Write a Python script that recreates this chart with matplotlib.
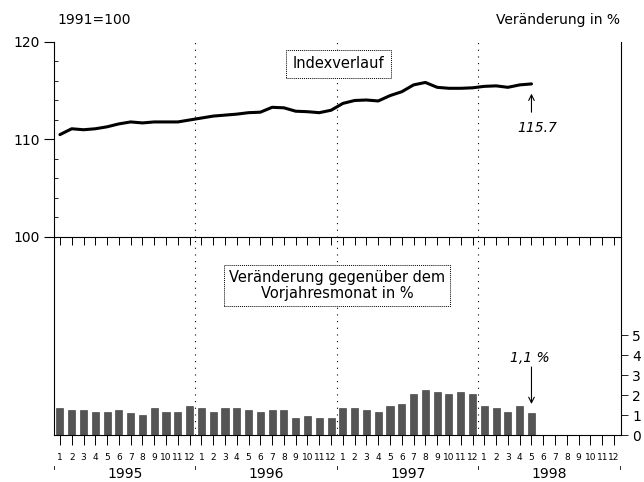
import numpy as np
import matplotlib
matplotlib.use('Agg')
import matplotlib.pyplot as plt
from matplotlib.ticker import MultipleLocator

plt.rcParams['font.family'] = ['DejaVu Sans']

years = ['1995', '1996', '1997', '1998']
month_labels = [str(m) for m in range(1, 13)] * 4

# index 1991=100, Jan 1995 .. May 1998
index_values = [110.5, 111.1, 111.0, 111.1, 111.3, 111.6, 111.8, 111.7, 111.8, 111.8, 111.8, 112.0,
                112.2, 112.4, 112.5, 112.6, 112.75, 112.8, 113.3, 113.25, 112.9, 112.85, 112.75, 113.0,
                113.7, 114.0, 114.05, 113.95, 114.5, 114.9, 115.6, 115.85, 115.35, 115.25, 115.25, 115.3,
                115.45, 115.5, 115.35, 115.6, 115.7]

# change vs. same month of previous year, %
change_values = [1.33, 1.25, 1.25, 1.15, 1.15, 1.25, 1.08, 0.98, 1.33, 1.15, 1.15, 1.45,
                 1.33, 1.13, 1.33, 1.33, 1.25, 1.13, 1.25, 1.25, 0.83, 0.97, 0.83, 0.83,
                 1.33, 1.33, 1.25, 1.15, 1.45, 1.55, 2.05, 2.25, 2.15, 2.05, 2.15, 2.05,
                 1.45, 1.33, 1.15, 1.45, 1.1]

n_months = len(month_labels)
x_all = np.arange(n_months)
x_idx = np.arange(len(index_values))
x_chg = np.arange(len(change_values))
year_bounds = [i * 12 - 0.5 for i in range(1, 4)]

fig = plt.figure(figsize=(6.44, 4.82), dpi=100)
ax2 = fig.add_axes([0.0839, 0.0975, 0.8805, 0.4108])
ax1 = fig.add_axes([0.0839, 0.5083, 0.8805, 0.4046])
ax1.patch.set_visible(False)
ax2.patch.set_visible(False)

# --- top: Indexverlauf
ax1.plot(x_idx, index_values, color='black', lw=2.2, solid_capstyle='round')
ax1.set_xlim(-0.5, n_months - 0.4)
ax1.set_ylim(100, 120)
ax1.set_yticks([100, 110, 120])
ax1.yaxis.set_minor_locator(MultipleLocator(2))
ax1.tick_params(axis='y', which='major', direction='out', length=7, width=0.8, labelsize=10)
ax1.tick_params(axis='y', which='minor', direction='in', length=3, width=0.6)
ax1.set_xticks(x_all)
ax1.tick_params(axis='x', direction='out', length=6, width=0.7, labelbottom=False)
ax1.spines['top'].set_visible(False)
for s in ['left', 'right', 'bottom']:
    ax1.spines[s].set_linewidth(0.8)

ax1.text(23.6, 117.75, 'Indexverlauf', ha='center', va='center', fontsize=10.5,
         bbox=dict(boxstyle='square,pad=0.45', fc='white', ec='black', lw=0.7, ls=(0, (1, 1))))
ax1.annotate('', xy=(40.0, 114.7), xytext=(40.0, 112.8),
             arrowprops=dict(arrowstyle='->', lw=0.8, color='black', shrinkA=0, shrinkB=0))
ax1.text(40.5, 111.2, '115.7', ha='center', va='center', fontsize=10, style='italic')

# --- bottom: Veränderung gegenüber dem Vorjahresmonat
ax2.bar(x_chg, change_values, width=0.6, color='#555555', edgecolor='#333333', lw=0.4)
ax2.set_xlim(-0.5, n_months - 0.4)
ax2.set_ylim(0, 9.9)
ax2.set_xticks(x_all)
ax2.set_xticklabels(month_labels, fontsize=6.5)
ax2.tick_params(axis='x', direction='out', length=7, width=0.7, pad=6)
ax2.yaxis.tick_right()
ax2.set_yticks(range(6))
ax2.tick_params(axis='y', direction='out', length=5, width=0.6, labelsize=10, pad=3)
ax2.spines['top'].set_visible(False)
for s in ['left', 'right', 'bottom']:
    ax2.spines[s].set_linewidth(0.8)

ax2.text(23.5, 7.48, 'Veränderung gegenüber dem\nVorjahresmonat in %', ha='center', va='center',
         fontsize=10.5, linespacing=1.1,
         bbox=dict(boxstyle='square,pad=0.35', fc='white', ec='black', lw=0.7, ls=(0, (1, 1))))
ax2.annotate('', xy=(40.0, 1.55), xytext=(40.0, 3.4),
             arrowprops=dict(arrowstyle='->', lw=0.8, color='black', shrinkA=0, shrinkB=0))
ax2.text(39.9, 3.85, '1,1 %', ha='center', va='center', fontsize=10, style='italic')

# year separators
for xb in year_bounds:
    for ax in (ax1, ax2):
        ax.axvline(xb, color='black', lw=0.8, ls=(0, (1, 5)))

trans = ax2.get_xaxis_transform()
for i, yr in enumerate(years):
    ax2.text(i * 12 + 5.5, -0.195, yr, transform=trans, ha='center', va='center', fontsize=10)
for xb in [-0.5] + year_bounds + [n_months - 0.45]:
    ax2.plot([xb, xb], [-0.155, -0.17], transform=trans, color='black', lw=0.6, clip_on=False)

fig.text(0.0885, 0.9585, '1991=100', ha='left', va='center', fontsize=10)
fig.text(0.963, 0.9585, 'Veränderung in %', ha='right', va='center', fontsize=10)

fig.savefig('out.png', dpi=100)
